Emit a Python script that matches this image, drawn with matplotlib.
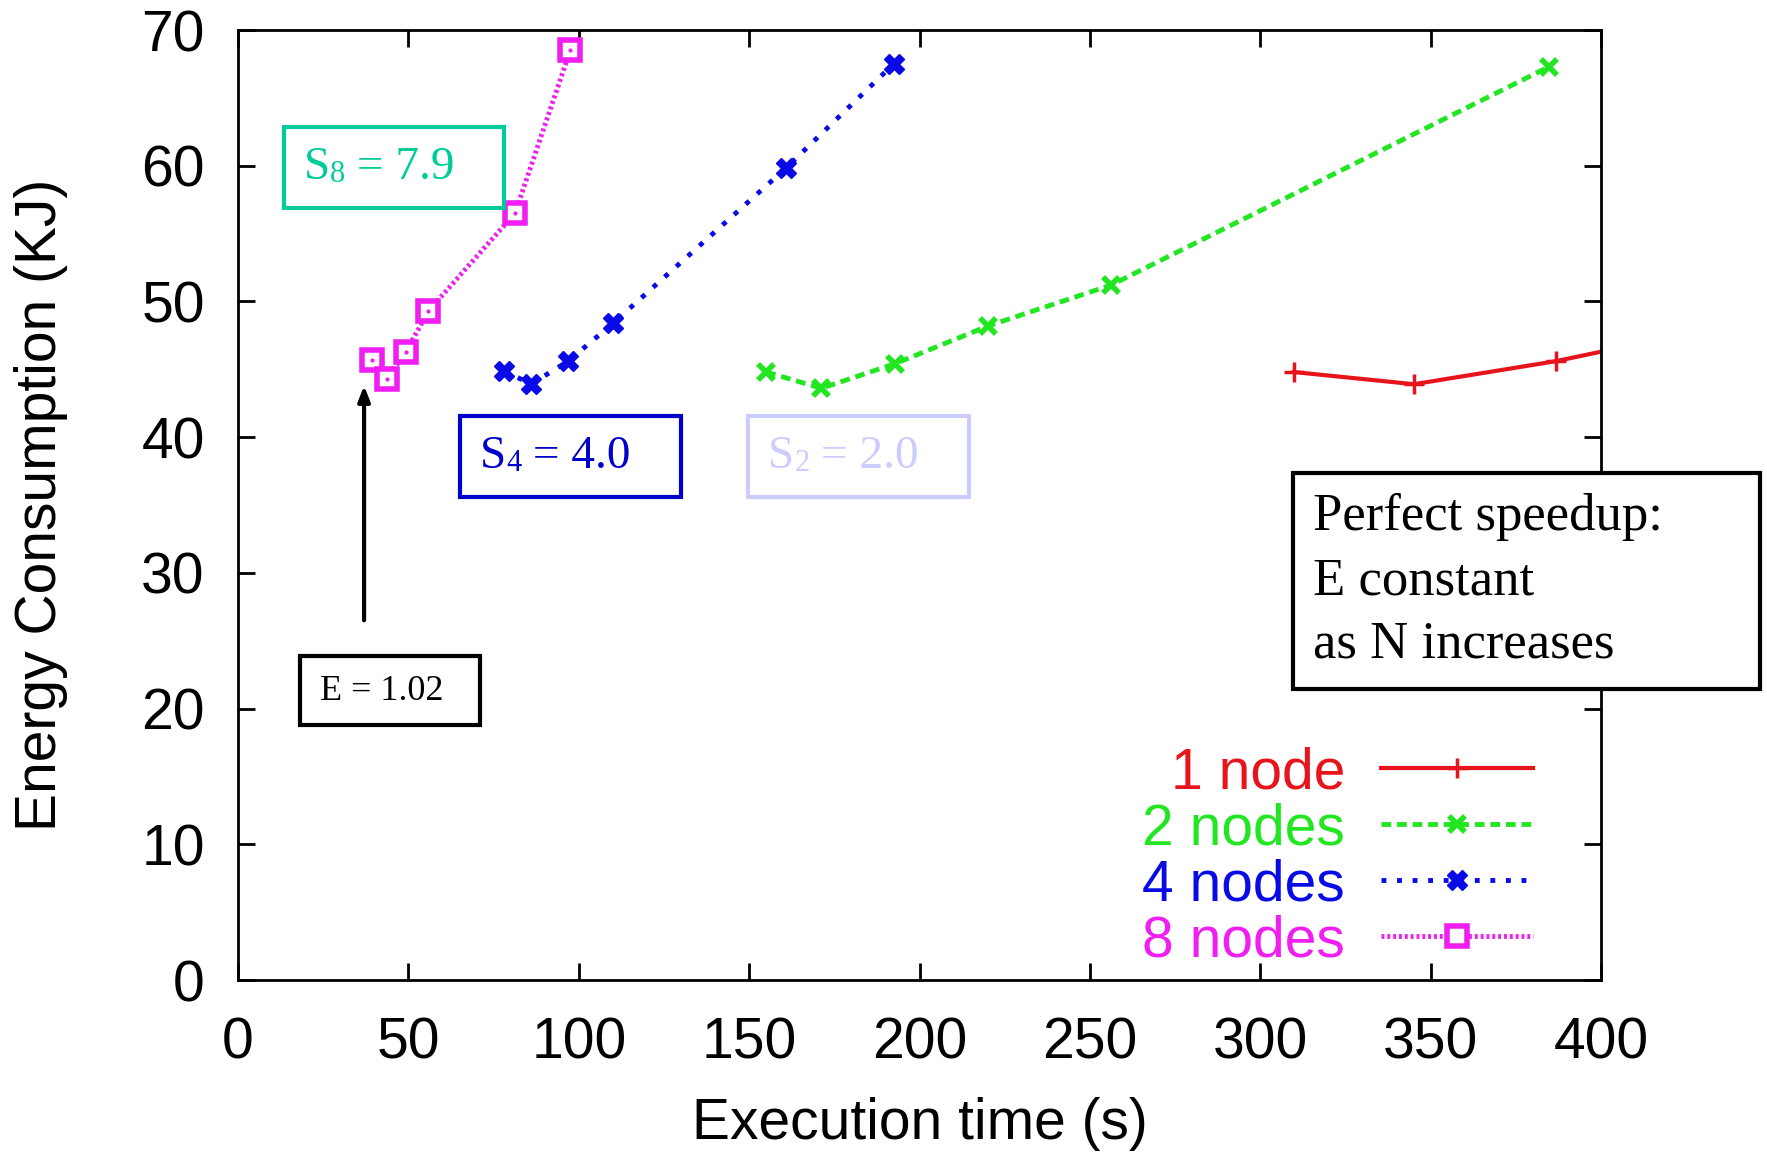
import matplotlib
matplotlib.use("Agg")
from matplotlib import pyplot as plt
from matplotlib.patches import Rectangle

plt.rcParams['font.family'] = ['Liberation Sans', 'DejaVu Sans']

# execution time (s) and energy (KJ) per node count
t_1 = [309.8, 345.1, 386.8, 440.0]
e_1 = [44.8, 43.9, 45.6, 48.4]
t_2 = [155.0, 171.2, 192.7, 220.2, 256.2, 384.8]
e_2 = [44.8, 43.6, 45.4, 48.2, 51.2, 67.3]
t_4 = [78.0, 86.0, 96.9, 110.1, 160.7, 192.4]
e_4 = [44.9, 43.9, 45.6, 48.4, 59.8, 67.5]
t_8 = [39.3, 43.6, 49.3, 55.9, 81.3, 97.5]
e_8 = [45.7, 44.3, 46.3, 49.3, 56.5, 68.5]

labels = ['1 node', '2 nodes', '4 nodes', '8 nodes']
x_ticks = [0, 50, 100, 150, 200, 250, 300, 350, 400]
y_ticks = [0, 10, 20, 30, 40, 50, 60, 70]

red = '#e8141c'
green = '#22e622'
blue = '#0a0ae6'
magenta = '#f01ef0'

W, H = 1767, 1153
fig = plt.figure(figsize=(W / 100.0, H / 100.0), dpi=100)
ax = fig.add_axes([238.0 / W, 1 - 980.0 / H, (1601.0 - 238) / W, (980.0 - 30) / H])

ax.plot(t_1, e_1, color=red, lw=3, ls='-', marker='+', ms=14, mew=2.5, label=labels[0])
ax.plot(t_2, e_2, color=green, lw=3.5, ls=(0, (2, 1.2)), marker='x', ms=12, mew=4, label=labels[1])
ax.plot(t_4, e_4, color=blue, lw=3.5, ls=(0, (1, 2.2)), marker='X', ms=14, mew=1, label=labels[2])
ax.plot(t_8, e_8, color=magenta, lw=3.5, ls=(0, (0.6, 0.6)), marker='s', ms=14, mew=4,
        mfc='white', mec=magenta, label=labels[3])
ax.plot(t_8, e_8, ls='none', marker='.', ms=4, color=magenta)

ax.set_xlim(0, 400)
ax.set_ylim(0, 70)
ax.set_xticks(x_ticks)
ax.set_yticks(y_ticks)
ax.tick_params(direction='in', length=12, width=2, top=True, right=True, labelsize=41)
ax.tick_params(axis='x', pad=26)
ax.tick_params(axis='y', pad=24)
for s in ax.spines.values():
    s.set_linewidth(2)
ax.set_xlabel('Execution time (s)', fontsize=41)
ax.set_ylabel('Energy Consumption (KJ)', fontsize=41)
ax.xaxis.set_label_coords(0.5, -0.123)
ax.yaxis.set_label_coords(-0.125, 0.5)

leg = ax.legend(loc='lower right', bbox_to_anchor=(0.950, 0.0125), frameon=False, markerfirst=False,
                labelcolor='linecolor', fontsize=41, handlelength=2.67, handletextpad=0.63,
                labelspacing=0.035, borderpad=0, borderaxespad=0, numpoints=1)

serif = ['Liberation Serif', 'DejaVu Serif']


def box(x0, y0, x1, y1, color, lw=3):
    r = Rectangle((x0 / W, 1 - y1 / H), (x1 - x0) / W, (y1 - y0) / H, transform=fig.transFigure,
                  fill=True, fc='white', ec=color, lw=lw, zorder=5, clip_on=False)
    ax.add_patch(r)


def note(x, y, text, color, size, **kw):
    return ax.annotate(text, xy=(x / W, 1 - y / H), xycoords='figure fraction', color=color,
                       fontsize=size, family=serif, va='center', ha='left', zorder=6,
                       annotation_clip=False, **kw)


def speedup(x, y, sub, rest, color):
    s = note(x, y, 'S', color, 34)
    d = ax.annotate(sub, xy=(1, 0), xycoords=s, va='bottom', ha='left', color=color,
                    fontsize=22, family=serif, zorder=6, annotation_clip=False)
    ax.annotate(rest, xy=(1, 0), xycoords=d, va='bottom', ha='left', color=color,
                fontsize=34, family=serif, zorder=6, annotation_clip=False)


box(284, 127, 504, 208, '#00cc99')
speedup(304, 168, '8', ' = 7.9', '#00cc99')
box(460, 416, 681, 497, '#0000cc')
speedup(480, 457, '4', ' = 4.0', '#0000cc')
box(748, 416, 969, 497, '#ccccff')
speedup(768, 457, '2', ' = 2.0', '#ccccff')
box(300, 656, 480, 725, 'black')
note(320, 691, 'E = 1.02', 'black', 26)
box(1293, 473, 1760, 689, 'black')
note(1313, 581, 'Perfect speedup:\nE constant\nas N increases', 'black', 38, linespacing=1.42)

ax.annotate('', xy=(37.0, 44.0), xytext=(37.0, 26.3),
            arrowprops=dict(arrowstyle='-|>,head_width=0.35,head_length=0.9', color='black', lw=3))

fig.savefig('out.png', dpi=100)
